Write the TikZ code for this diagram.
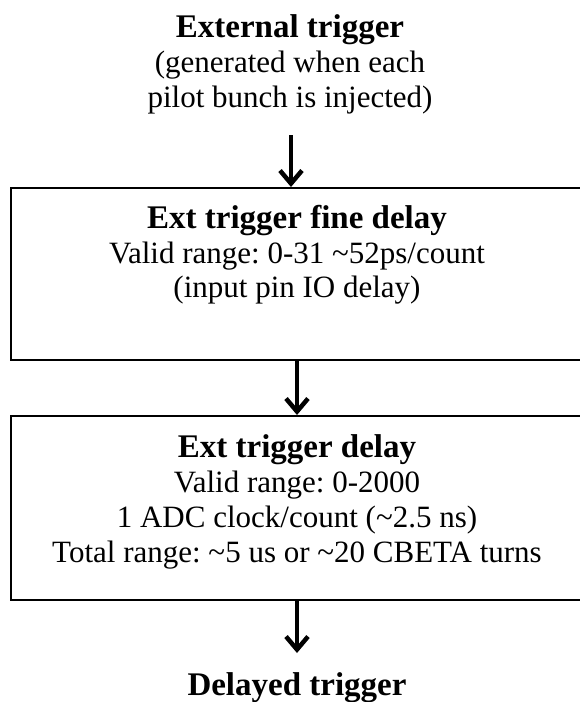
\documentclass[tikz,border=0pt]{standalone}
\usepackage{fontspec}
\setmainfont{Liberation Serif}
\usetikzlibrary{arrows.meta}
\frenchspacing
\newcommand{\tld}{\symbol{"7E}}
\begin{document}
\begin{tikzpicture}[x=1pt,y=-1pt,
  txt/.style={anchor=base, inner sep=0pt, font=\fontsize{31}{35}\selectfont},
  hd/.style={anchor=base, inner sep=0pt, font=\fontsize{33}{35}\selectfont\bfseries},
  blk/.style={draw, line width=2pt, inner sep=0pt},
  arr/.style={line width=4.5pt, -{Straight Barb[length=13pt,width=22pt,line width=4.5pt]}}]
\useasboundingbox (0,0) rectangle (580,702);
% top text
\node[hd]  (t1) at (290,37)  {External trigger};
\node[txt] (t2) at (290,72)  {(generated when each};
\node[txt] (t3) at (290,107) {pilot bunch is injected)};
% box 1
\node[blk, minimum width=572pt, minimum height=172pt] (box1) at (297,274) {};
\node[hd]  (b1a) at (297,228) {Ext trigger fine delay};
\node[txt] (b1b) at (297,263) {Valid range: 0-31 \tld52ps/count};
\node[txt] (b1c) at (297,297) {(input pin IO delay)};
% box 2
\node[blk, minimum width=572pt, minimum height=184pt] (box2) at (297,508) {};
\node[hd]  (b2a) at (297,457) {Ext trigger delay};
\node[txt] (b2b) at (297,492) {Valid range: 0-2000};
\node[txt] (b2c) at (297,527) {1 ADC clock/count (\tld2.5 ns)};
\node[txt] (b2d) at (297,562) {Total range: \tld5 us or \tld20 CBETA turns};
% bottom text
\node[hd]  (out) at (297,695) {Delayed trigger};
% arrows
\coordinate (a1) at (291,135);
\coordinate (a3) at (297,653);
\draw[arr] (a1) -- (a1 |- box1.north);
\draw[arr] (box1.south) -- (box2.north);
\draw[arr] (box2.south) -- (a3);
\end{tikzpicture}
\end{document}
